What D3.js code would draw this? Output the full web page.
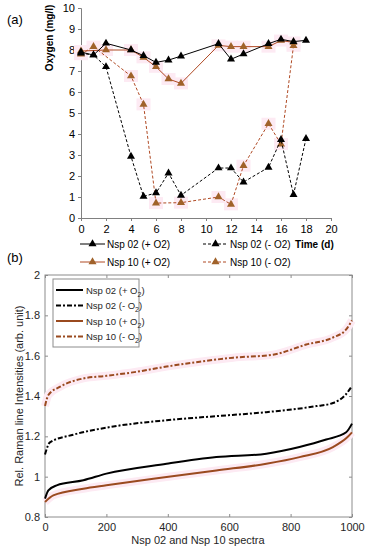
<!DOCTYPE html>
<html>
<head>
<meta charset="utf-8">
<script src="https://cdn.jsdelivr.net/npm/d3@7"></script>
<style>
  body { margin: 0; background: #fff; }
  text { font-family: "Liberation Sans", Arial, sans-serif; }
</style>
</head>
<body>
<svg id="chart" width="368" height="550"></svg>
<script>
// ---- panel (a): oxygen over time ----
const days02plus = [0, 1, 2, 4, 5, 6, 7, 8, 11, 12, 13, 15, 16, 17, 18];
const nsp02plus = [7.9, 7.76, 8.32, 8.0, 7.73, 7.41, 7.52, 7.71, 8.3, 7.56, 7.81, 8.3, 8.51, 8.4, 8.46];
const days02minus = [0, 1, 2, 4, 5, 6, 7, 8, 11, 12, 13, 15, 16, 17, 18];
const nsp02minus = [7.85, 7.76, 7.2, 2.93, 1.03, 1.19, 2.14, 1.08, 2.38, 2.38, 1.71, 2.41, 3.73, 1.11, 3.78];
const days10plus = [0, 2, 4, 5, 6, 7, 8, 11, 12, 13, 15, 16, 17];
const nsp10plus = [7.95, 8.0, 8.0, 7.65, 7.2, 6.62, 6.41, 8.22, 8.16, 8.16, 8.16, 8.45, 8.36];
const days10minus = [0, 1, 4, 5, 6, 8, 11, 12, 13, 15, 16, 17];
const nsp10minus = [7.8, 8.16, 6.76, 5.41, 0.71, 0.73, 1.0, 0.65, 2.49, 4.49, 3.52, 8.2];
const oxTicks = [0, 1, 2, 3, 4, 5, 6, 7, 8, 9, 10];
const dayTicks = [0, 2, 4, 6, 8, 10, 12, 14, 16, 18, 20];

// ---- panel (b): sorted Raman intensities ----
const spectraIdx = [0, 11, 49, 125, 200, 298, 396, 504, 613, 743, 851, 938, 981, 1000];
const ram10minus = [1.35, 1.405, 1.446, 1.487, 1.50, 1.52, 1.546, 1.57, 1.59, 1.605, 1.655, 1.69, 1.73, 1.775];
const spectraIdx02m = [0, 16, 92, 211, 396, 558, 721, 884, 938, 981, 1000];
const ram02minus = [1.11, 1.17, 1.208, 1.246, 1.28, 1.30, 1.32, 1.35, 1.365, 1.41, 1.45];
const spectraIdx02p = [0, 11, 38, 125, 200, 396, 558, 721, 829, 916, 981, 1000];
const ram02plus = [0.891, 0.932, 0.957, 0.982, 1.015, 1.064, 1.097, 1.114, 1.147, 1.184, 1.22, 1.263];
const spectraIdx10p = [0, 27, 125, 200, 396, 558, 721, 829, 938, 981, 1000];
const ram10plus = [0.874, 0.907, 0.94, 0.957, 0.998, 1.031, 1.064, 1.097, 1.147, 1.19, 1.22];
const ramanTicks = [0.8, 1, 1.2, 1.4, 1.6, 1.8, 2];
const spectraTicks = [0, 200, 400, 600, 800, 1000];

const svg = d3.select("#chart");
const brownLine = "#b04a24", brownMark = "#a0622a", pinkGlow = "#fdeaf3";
const brownB = "#9a4a1f", dashDot = "5,2,2,2";

// ===== panel (a) =====
const xa = d3.scaleLinear().domain([0, 20]).range([81, 331]);
const ya = d3.scaleLinear().domain([0, 10]).range([218, 8]);

const axA = svg.append("g");
axA.append("g")
  .attr("transform", "translate(81,0)")
  .call(d3.axisLeft(ya).tickValues(oxTicks).tickSize(3).tickPadding(3))
  .call(g => g.select(".domain").attr("stroke", "#808080"))
  .call(g => g.selectAll("line").attr("stroke", "#808080"))
  .call(g => g.selectAll("text").attr("font-size", 11).attr("fill", "#000"));
axA.append("g")
  .attr("transform", "translate(0,218)")
  .call(d3.axisBottom(xa).tickValues(dayTicks).tickSize(3).tickPadding(4))
  .call(g => g.select(".domain").attr("stroke", "#808080"))
  .call(g => g.selectAll("line").attr("stroke", "#808080"))
  .call(g => g.selectAll("text").attr("font-size", 11).attr("fill", "#000"));

svg.append("text").attr("x", 7).attr("y", 24).attr("font-size", 13).text("(a)");
svg.append("text")
  .attr("transform", "translate(53,38) rotate(-90)")
  .attr("text-anchor", "middle").attr("font-size", 10).attr("font-weight", "bold")
  .text("Oxygen  (mg/l)");
svg.append("text").attr("x", 295).attr("y", 248)
  .attr("font-size", 10).attr("font-weight", "bold").text("Time (d)");

const seriesA = [
  { xs: days10minus, ys: nsp10minus, color: brownLine, mark: brownMark, dash: "3,2", glow: true },
  { xs: days10plus, ys: nsp10plus, color: brownLine, mark: brownMark, dash: null, glow: true },
  { xs: days02minus, ys: nsp02minus, color: "#000", mark: "#000", dash: "3,2", glow: false },
  { xs: days02plus, ys: nsp02plus, color: "#000", mark: "#000", dash: null, glow: false }
];

const lineA = d3.line().x(d => xa(d[0])).y(d => ya(d[1]));
const tri = d3.symbol().type(d3.symbolTriangle).size(28);

// faint pink halo behind the brown markers, as in the scanned figure
seriesA.filter(s => s.glow).forEach(s => {
  const pts = s.xs.map((x, i) => [x, s.ys[i]]);
  svg.append("g").selectAll("rect").data(pts).join("rect")
    .attr("x", d => xa(d[0]) - 7).attr("y", d => ya(d[1]) - 6)
    .attr("width", 14).attr("height", 12)
    .attr("fill", pinkGlow);
});
seriesA.forEach(s => {
  const pts = s.xs.map((x, i) => [x, s.ys[i]]);
  svg.append("path").datum(pts).attr("d", lineA)
    .attr("fill", "none").attr("stroke", s.color).attr("stroke-width", 1)
    .attr("stroke-dasharray", s.dash);
  svg.append("g").selectAll("path").data(pts).join("path")
    .attr("d", tri)
    .attr("transform", d => `translate(${xa(d[0])},${ya(d[1])})`)
    .attr("fill", s.mark);
});

// legend (a)
const legA = [
  { label: "Nsp 02 (+ O2)", x: 80, y: 244, color: "#000", mark: "#000", dash: null },
  { label: "Nsp 02 (- O2)", x: 203, y: 244, color: "#000", mark: "#000", dash: "3,2" },
  { label: "Nsp 10 (+ O2)", x: 80, y: 262, color: brownLine, mark: brownMark, dash: null },
  { label: "Nsp 10 (- O2)", x: 203, y: 262, color: brownLine, mark: brownMark, dash: "3,2" }
];
legA.forEach(l => {
  svg.append("line").attr("x1", l.x).attr("x2", l.x + 25).attr("y1", l.y).attr("y2", l.y)
    .attr("stroke", l.color).attr("stroke-width", 1).attr("stroke-dasharray", l.dash);
  svg.append("path").attr("d", tri).attr("transform", `translate(${l.x + 12.5},${l.y})`)
    .attr("fill", l.mark);
  svg.append("text").attr("x", l.x + 27).attr("y", l.y + 4).attr("font-size", 10).text(l.label);
});

svg.append("text").attr("x", 7).attr("y", 262).attr("font-size", 13).text("(b)");

// ===== panel (b) =====
const xb = d3.scaleLinear().domain([0, 1000]).range([45, 352]);
const yb = d3.scaleLinear().domain([0.8, 2]).range([517, 275]);

svg.append("rect").attr("x", 45).attr("y", 275).attr("width", 307).attr("height", 242)
  .attr("fill", "#fff").attr("stroke", "#8c8c8c").attr("stroke-width", 1);

svg.append("g").attr("transform", "translate(45,0)")
  .call(d3.axisLeft(yb).tickValues(ramanTicks).tickSize(-3).tickPadding(5).tickFormat(d3.format("~g")))
  .call(g => g.select(".domain").remove())
  .call(g => g.selectAll("line").attr("stroke", "#8c8c8c"))
  .call(g => g.selectAll("text").attr("font-size", 11).attr("fill", "#262626"));
svg.append("g").attr("transform", "translate(352,0)")
  .call(d3.axisRight(yb).tickValues(ramanTicks).tickSize(-3).tickFormat(""))
  .call(g => g.select(".domain").remove())
  .call(g => g.selectAll("line").attr("stroke", "#8c8c8c"));
svg.append("g").attr("transform", "translate(0,517)")
  .call(d3.axisBottom(xb).tickValues(spectraTicks).tickSize(-3).tickPadding(6).tickFormat(d3.format("d")))
  .call(g => g.select(".domain").remove())
  .call(g => g.selectAll("line").attr("stroke", "#8c8c8c"))
  .call(g => g.selectAll("text").attr("font-size", 11).attr("fill", "#262626"));
svg.append("g").attr("transform", "translate(0,275)")
  .call(d3.axisTop(xb).tickValues(spectraTicks).tickSize(-3).tickFormat(""))
  .call(g => g.select(".domain").remove())
  .call(g => g.selectAll("line").attr("stroke", "#8c8c8c"));

svg.append("text").attr("x", 198).attr("y", 544).attr("text-anchor", "middle")
  .attr("font-size", 11).attr("fill", "#262626").text("Nsp 02 and Nsp 10 spectra");
svg.append("text")
  .attr("transform", "translate(23,396) rotate(-90)")
  .attr("text-anchor", "middle").attr("font-size", 11).attr("fill", "#262626")
  .text("Rel. Raman line Intensities (arb. unit)");

const seriesB = [
  { xs: spectraIdx10p, ys: ram10plus, color: brownB, dash: null, glow: true },
  { xs: spectraIdx02p, ys: ram02plus, color: "#000", dash: null, glow: false },
  { xs: spectraIdx02m, ys: ram02minus, color: "#000", dash: dashDot, glow: false },
  { xs: spectraIdx, ys: ram10minus, color: brownB, dash: dashDot, glow: true }
];
const lineB = d3.line().x(d => xb(d[0])).y(d => yb(d[1])).curve(d3.curveMonotoneX);

seriesB.forEach(s => {
  const pts = s.xs.map((x, i) => [x, s.ys[i]]);
  if (s.glow) {
    svg.append("path").datum(pts).attr("d", lineB)
      .attr("fill", "none").attr("stroke", pinkGlow).attr("stroke-width", 8);
  }
});
seriesB.forEach(s => {
  const pts = s.xs.map((x, i) => [x, s.ys[i]]);
  svg.append("path").datum(pts).attr("d", lineB)
    .attr("fill", "none").attr("stroke", s.color).attr("stroke-width", 2)
    .attr("stroke-dasharray", s.dash);
});

// legend (b)
svg.append("rect").attr("x", 53).attr("y", 279).attr("width", 86).attr("height", 68)
  .attr("fill", "#fff").attr("stroke", "#8c8c8c").attr("stroke-width", 1);
const legB = [
  { name: "Nsp 02 (+ O", color: "#000", dash: null },
  { name: "Nsp 02 (- O", color: "#000", dash: dashDot },
  { name: "Nsp 10 (+ O", color: brownB, dash: null },
  { name: "Nsp 10 (- O", color: brownB, dash: dashDot }
];
legB.forEach((l, i) => {
  const y = 290 + i * 15.5;
  svg.append("line").attr("x1", 56).attr("x2", 83).attr("y1", y).attr("y2", y)
    .attr("stroke", l.color).attr("stroke-width", 2).attr("stroke-dasharray", l.dash);
  const t = svg.append("text").attr("x", 86).attr("y", y + 3.5)
    .attr("font-size", 9.5).attr("fill", "#262626");
  t.append("tspan").text(l.name);
  t.append("tspan").attr("font-size", 7).attr("dy", 3).text("2");
  t.append("tspan").attr("dy", -3).text(")");
});
</script>
</body>
</html>
